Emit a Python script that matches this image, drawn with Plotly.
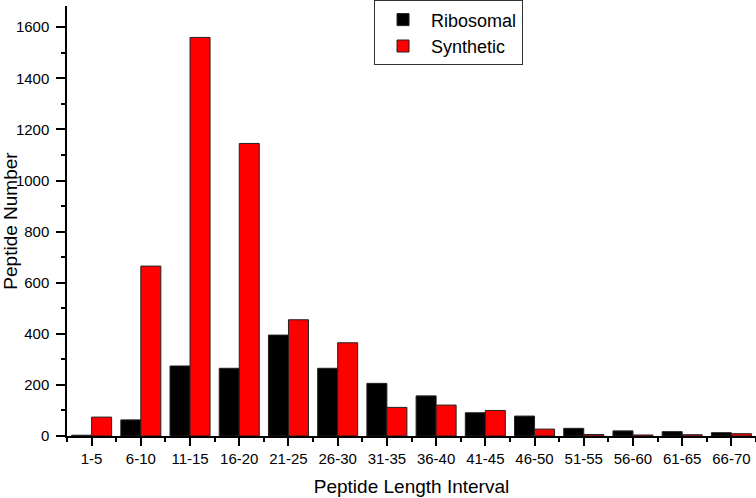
import plotly.graph_objects as go

categories = ["1-5", "6-10", "11-15", "16-20", "21-25", "26-30", "31-35",
              "36-40", "41-45", "46-50", "51-55", "56-60", "61-65", "66-70"]
ribosomal = [3, 63, 274, 265, 395, 265, 206, 157, 91, 78, 30, 20, 17, 13]
synthetic = [74, 665, 1560, 1145, 455, 365, 112, 121, 100, 27, 6, 4, 5, 9]

idx = list(range(len(categories)))

fig = go.Figure()
fig.add_trace(go.Bar(x=idx, y=ribosomal, name="Ribosomal",
                     marker=dict(color="#000000", line=dict(color="#222222", width=1))))
fig.add_trace(go.Bar(x=idx, y=synthetic, name="Synthetic",
                     marker=dict(color="#ff0000", line=dict(color="#222222", width=1))))

font = "Liberation Sans, Arial, sans-serif"
fig.update_layout(
    width=756, height=498,
    margin=dict(l=67, r=0, t=6, b=62, autoexpand=False),
    paper_bgcolor="white", plot_bgcolor="white",
    barmode="group", bargap=0.187, bargroupgap=0,
    font=dict(family=font, size=15, color="black"),
    showlegend=True,
    legend=dict(x=0.4456, y=1.013, xanchor="left", yanchor="top",
                bordercolor="#333333", borderwidth=1, bgcolor="white",
                font=dict(size=18, family=font), tracegroupgap=0,
                itemwidth=46),
    xaxis=dict(range=[-0.5, len(categories) - 0.5], tickmode="array",
               tickvals=idx, ticktext=categories, automargin=False,
               showline=True, linecolor="black", linewidth=1.5,
               ticks="outside", ticklen=8, tickwidth=1.5, tickcolor="black",
               showgrid=False, zeroline=False,
               tickfont=dict(size=15),
               minor=dict(tick0=0.5, dtick=1, ticks="outside", ticklen=4,
                          tickwidth=1.5, tickcolor="black", showgrid=False),
               title=dict(text="Peptide Length Interval", font=dict(size=19), standoff=14)),
    yaxis=dict(range=[0, 1683], tickmode="linear", tick0=0, dtick=200,
               automargin=False, ticklabelstandoff=4,
               showline=True, linecolor="black", linewidth=1.5,
               ticks="outside", ticklen=9, tickwidth=1.5, tickcolor="black",
               showgrid=False, zeroline=False,
               tickfont=dict(size=15),
               minor=dict(dtick=100, ticks="outside", ticklen=4,
                          tickwidth=1.5, tickcolor="black", showgrid=False),
               title=dict(text="Peptide Number", font=dict(size=19), standoff=8)),
)

fig.write_html("out.html", config={"displayModeBar": False},
               post_script="document.body.style.margin='0';document.body.style.overflow='hidden';")
